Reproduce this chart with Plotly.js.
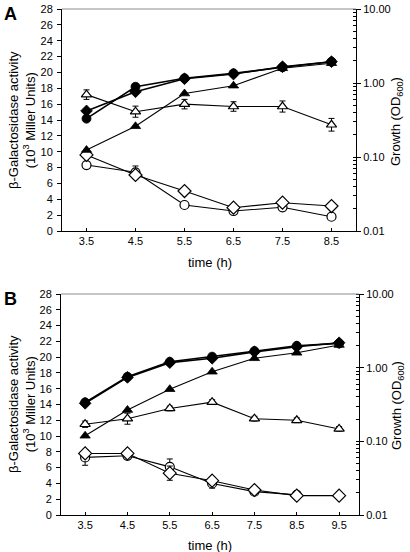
<!DOCTYPE html>
<html>
<head>
<meta charset="utf-8">
<script src="https://cdn.plot.ly/plotly-3.0.1.min.js"></script>
<style>html,body{margin:0;padding:0;background:#fff}#chart{width:410px;height:552px}</style>
</head>
<body>
<div id="chart"></div>
<script>
// ---- Data ----
const timeA = [3.5, 4.5, 5.5, 6.5, 7.5, 8.5];
const timeB = [3.5, 4.5, 5.5, 6.5, 7.5, 8.5, 9.5];

// Panel A: growth (OD600, right log axis)
const growthA_circle   = [0.33, 0.89, 1.16, 1.35, 1.63, 1.94];
const growthA_diamond  = [0.42, 0.76, 1.14, 1.32, 1.66, 1.94];
const growthA_triangle = [0.124, 0.26, 0.72, 0.92, 1.58, 1.85];
// Panel A: beta-galactosidase activity (10^3 Miller units, left axis)
const activityA_triangle = [17.2, 15.05, 16.0, 15.7, 15.7, 13.4];
const activityA_triangleErr = [0.6, 0.7, 0.6, 0.6, 0.7, 0.8];
const activityA_diamond  = [9.6, 7.06, 5.04, 2.94, 3.57, 3.15];
const activityA_circle   = [8.32, 7.4, 3.28, 2.52, 2.99, 1.8];
const activityA_circleErr = [0.3, 0.8, 0.2, 0.2, 0.2, 0.2];

// Panel B: growth
const growthB_circle   = [0.338, 0.753, 1.2, 1.41, 1.68, 1.98, 2.14];
const growthB_diamond  = [0.328, 0.738, 1.17, 1.34, 1.64, 1.92, 2.18];
const growthB_triangle = [0.119, 0.266, 0.51, 0.88, 1.34, 1.59, 2.03];
// Panel B: activity
const activityB_triangle = [11.5, 12.2, 13.5, 14.3, 12.2, 12.0, 10.9];
const activityB_triangleErr = [0.4, 0.7, 0.3, 0.3, 0.3, 0.3, 0.3];
const activityB_diamond  = [7.8, 7.8, 5.3, 4.35, 3.17, 2.45, 2.45];
const activityB_diamondErr = [0.5, 0.3, 0.9, 0.5, 0.2, 0.2, 0.2];
const timeB_circle = [3.5, 4.5, 5.5, 6.5, 7.5, 8.5];
const activityB_circle   = [7.3, 7.5, 6.1, 4.0, 2.96, 2.55];
const activityB_circleErr = [1.0, 0.4, 1.0, 0.6, 0.2, 0.2];

const tickLabelsX_A = ['3.5','4.5','5.5','6.5','7.5','8.5'];
const tickLabelsX_B = ['3.5','4.5','5.5','6.5','7.5','8.5','9.5'];

// ---- Styles ----
const openMarker = (sym, size) => ({symbol: sym, size: size, color: '#ffffff', line: {color: '#000', width: 1.2}});
const filledMarker = (sym, size) => ({symbol: sym, size: size, color: '#000', line: {color: '#000', width: 0.8}});
const errStyle = (arr) => ({type: 'data', array: arr, visible: true, color: '#000', thickness: 1, width: 3});

function tr(x, y, xa, ya, marker, lw, err) {
  const t = {x: x, y: y, xaxis: xa, yaxis: ya, type: 'scatter', mode: 'lines+markers',
    line: {color: '#000', width: lw}, marker: marker, showlegend: false, cliponaxis: false};
  if (err) t.error_y = err;
  return t;
}

const data = [
  // Panel A
  tr(timeA, activityA_circle, 'x', 'y', openMarker('circle', 9), 1.1, errStyle(activityA_circleErr)),
  tr(timeA, activityA_diamond, 'x', 'y', openMarker('diamond', 10), 1.1),
  tr(timeA, activityA_triangle, 'x', 'y', openMarker('triangle-up', 9), 1.1, errStyle(activityA_triangleErr)),
  tr(timeA, growthA_triangle, 'x', 'y2', filledMarker('triangle-up', 9), 1.1),
  tr(timeA, growthA_diamond, 'x', 'y2', filledMarker('diamond', 9), 1.6),
  tr(timeA, growthA_circle, 'x', 'y2', filledMarker('circle', 9), 1.6),
  // Panel B
  tr(timeB_circle, activityB_circle, 'x2', 'y3', openMarker('circle', 9), 1.1, errStyle(activityB_circleErr)),
  tr(timeB, activityB_diamond, 'x2', 'y3', openMarker('diamond', 10), 1.1, errStyle(activityB_diamondErr)),
  tr(timeB, activityB_triangle, 'x2', 'y3', openMarker('triangle-up', 9), 1.1, errStyle(activityB_triangleErr)),
  tr(timeB, growthB_triangle, 'x2', 'y4', filledMarker('triangle-up', 9), 1.1),
  tr(timeB, growthB_diamond, 'x2', 'y4', filledMarker('diamond', 9), 1.6),
  tr(timeB, growthB_circle, 'x2', 'y4', filledMarker('circle', 9), 1.6)
];

const W = 410, H = 552;
const fontFam = 'Arial, Liberation Sans, sans-serif';
const tickFont = {family: fontFam, size: 11, color: '#000'};

const xDomA = [62 / W, 356 / W];
const xDomB = [61 / W, 359 / W];
const yDomA = [1 - 231 / H, 1 - 9 / H];
const yDomB = [1 - 515 / H, 1 - 294 / H];

const xBase = {
  showline: true, linecolor: '#000', linewidth: 1, ticks: 'inside', ticklen: 3, tickcolor: '#000',
  showgrid: false, zeroline: false, tickfont: tickFont, tickmode: 'array', fixedrange: true
};
const yLeftBase = {
  showline: true, linecolor: '#000', linewidth: 1, ticks: 'outside', ticklen: 4, tickcolor: '#000',
  showgrid: false, zeroline: false, tickfont: tickFont, range: [0, 28], dtick: 2, tick0: 0, ticklabelstandoff: 2
};
const yRightBase = {
  type: 'log', side: 'right', showline: true, linecolor: '#000', linewidth: 1,
  ticks: 'outside', ticklen: 4, tickcolor: '#000', showgrid: false, zeroline: false, tickfont: tickFont,
  range: [-2, 1], dtick: 1, tickformat: '.2f',
  minor: {ticks: 'inside', ticklen: 3, tickcolor: '#000', dtick: 'D1', showgrid: false}
};

const layout = {
  width: W, height: H,
  margin: {l: 0, r: 0, t: 0, b: 0},
  paper_bgcolor: '#fff', plot_bgcolor: '#fff',
  font: {family: fontFam, color: '#000'},
  xaxis: Object.assign({}, xBase, {domain: xDomA, anchor: 'y', range: [3, 9], tickvals: timeA, ticktext: tickLabelsX_A}),
  xaxis2: Object.assign({}, xBase, {domain: xDomB, anchor: 'y3', range: [2.93, 9.97], tickvals: timeB, ticktext: tickLabelsX_B}),
  yaxis: Object.assign({}, yLeftBase, {domain: yDomA, anchor: 'x'}),
  yaxis2: Object.assign({}, yRightBase, {domain: yDomA, anchor: 'x', overlaying: 'y'}),
  yaxis3: Object.assign({}, yLeftBase, {domain: yDomB, anchor: 'x2'}),
  yaxis4: Object.assign({}, yRightBase, {domain: yDomB, anchor: 'x2', overlaying: 'y3'}),
  shapes: [
    {type: 'line', xref: 'paper', yref: 'paper', x0: xDomA[0], x1: xDomA[1], y0: yDomA[1], y1: yDomA[1], line: {color: '#8c8c8c', width: 1}},
    {type: 'line', xref: 'paper', yref: 'paper', x0: xDomB[0], x1: xDomB[1], y0: yDomB[1], y1: yDomB[1], line: {color: '#8c8c8c', width: 1}}
  ],
  annotations: [
    {text: '<b>A</b>', xref: 'paper', yref: 'paper', x: 2 / W, y: 1 - 2 / H, xanchor: 'left', yanchor: 'top', showarrow: false, font: {size: 18, family: fontFam}},
    {text: '<b>B</b>', xref: 'paper', yref: 'paper', x: 2 / W, y: 1 - 287 / H, xanchor: 'left', yanchor: 'top', showarrow: false, font: {size: 18, family: fontFam}},
    {text: 'β-Galactosidase activity<br>(10<sup>3</sup> Miller Units)', xref: 'paper', yref: 'paper', x: 22 / W, y: 1 - 120 / H, textangle: -90, xanchor: 'center', yanchor: 'middle', showarrow: false, font: {size: 13, family: fontFam}},
    {text: 'β-Galactosidase activity<br>(10<sup>3</sup> Miller Units)', xref: 'paper', yref: 'paper', x: 22 / W, y: 1 - 404 / H, textangle: -90, xanchor: 'center', yanchor: 'middle', showarrow: false, font: {size: 13, family: fontFam}},
    {text: 'Growth (OD<sub>600</sub>)', xref: 'paper', yref: 'paper', x: 397 / W, y: 1 - 122 / H, textangle: -90, xanchor: 'center', yanchor: 'middle', showarrow: false, font: {size: 13, family: fontFam}},
    {text: 'Growth (OD<sub>600</sub>)', xref: 'paper', yref: 'paper', x: 397 / W, y: 1 - 406 / H, textangle: -90, xanchor: 'center', yanchor: 'middle', showarrow: false, font: {size: 13, family: fontFam}},
    {text: 'time (h)', xref: 'paper', yref: 'paper', x: 210 / W, y: 1 - 262 / H, xanchor: 'center', yanchor: 'middle', showarrow: false, font: {size: 13, family: fontFam}},
    {text: 'time (h)', xref: 'paper', yref: 'paper', x: 210 / W, y: 1 - 545 / H, xanchor: 'center', yanchor: 'middle', showarrow: false, font: {size: 13, family: fontFam}}
  ]
};

Plotly.newPlot('chart', data, layout, {staticPlot: true, displayModeBar: false});
</script>
</body>
</html>
